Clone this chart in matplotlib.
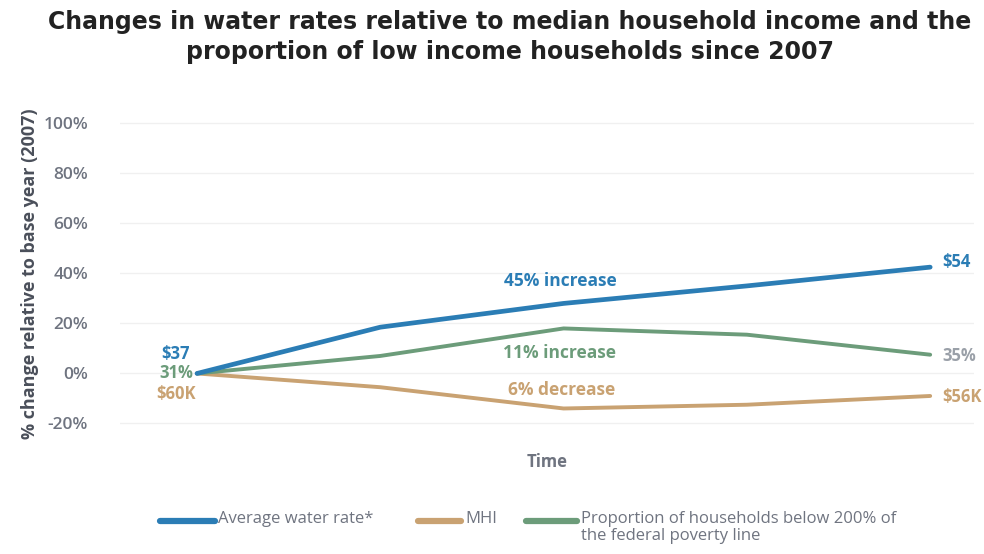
import matplotlib.pyplot as plt
from matplotlib.lines import Line2D

# Data (percent change vs 2007)
periods = [0, 1, 2, 3, 4]
water_rate = [0, 18.5, 28, 35, 42.5]
mhi = [0, -5.5, -14, -12.5, -9]
low_income = [0, 7, 18, 15.5, 7.5]
yticks = [-20, 0, 20, 40, 60, 80, 100]

blue = '#2b7db5'
orange = '#c9a272'
green = '#6c9c7a'
grey = '#6f7480'

plt.rcParams['font.family'] = ['Open Sans', 'DejaVu Sans']

fig = plt.figure(figsize=(9.84, 5.54), dpi=100)
ax = fig.add_axes([0.122, 0.213, 0.868, 0.587])

ax.plot(periods, water_rate, color=blue, lw=3.4, solid_capstyle='round', zorder=3)
ax.plot(periods, mhi, color=orange, lw=2.8, solid_capstyle='round', zorder=2)
ax.plot(periods, low_income, color=green, lw=2.8, solid_capstyle='round', zorder=2)

ax.set_xlim(-0.42, 4.24)
ax.set_ylim(-25, 105)
ax.set_yticks(yticks)
ax.set_yticklabels([f'{t}%' for t in yticks], fontsize=12.5, color=grey, fontweight='semibold')
ax.set_xticks([])
ax.tick_params(axis='y', length=0, pad=23)
ax.yaxis.grid(True, color='#f0f0f0', lw=1)
ax.set_axisbelow(True)
for s in ax.spines.values():
    s.set_visible(False)

ax.set_ylabel('% change relative to base year (2007)', fontsize=13, fontweight='bold',
              color='#4a4f5a', labelpad=3)
ax.set_xlabel('Time', fontsize=12, color=grey, fontweight='bold', labelpad=12)

# start labels
kw = dict(fontsize=12, fontweight='bold', ha='right', va='center')
ax.annotate('$37', (periods[0], water_rate[0]), xytext=(-5, 14), textcoords='offset points', color=blue, **kw)
ax.annotate('31%', (periods[0], low_income[0]), xytext=(-3, 0), textcoords='offset points', color=green, **kw)
ax.annotate('$60K', (periods[0], mhi[0]), xytext=(-1, -15), textcoords='offset points', color=orange, **kw)

# end labels
kw = dict(fontsize=12, fontweight='bold', ha='left', va='center')
ax.annotate('$54', (periods[-1], water_rate[-1]), xytext=(9, 4), textcoords='offset points', color=blue, **kw)
ax.annotate('35%', (periods[-1], low_income[-1]), xytext=(9, -1), textcoords='offset points', color='#9aa0a8', **kw)
ax.annotate('$56K', (periods[-1], mhi[-1]), xytext=(9, -1), textcoords='offset points', color=orange, **kw)

# middle labels
kw = dict(fontsize=12.5, fontweight='bold', ha='center', va='center')
ax.text(1.98, 37, '45% increase', color=blue, **kw)
ax.text(1.98, 8, '11% increase', color=green, **kw)
ax.text(1.99, -6.5, '6% decrease', color=orange, **kw)

fig.suptitle('Changes in water rates relative to median household income and the\n'
             'proportion of low income households since 2007',
             x=0.518, y=0.982, fontsize=17, fontweight='bold', color='#222222',
             family=['DejaVu Sans'], linespacing=1.3)

# legend, laid out by hand so the labels sit on the first line
legend_items = [('Average water rate*', blue, 0.163, 0.222),
                ('MHI', orange, 0.425, 0.473),
                ('Proportion of households below 200% of\nthe federal poverty line', green, 0.535, 0.590)]
ly = 1 - 521 / 554
for text, col, x0, x1 in legend_items:
    fig.add_artist(Line2D([x0, x1 - 0.004], [ly, ly], color=col, lw=4.5,
                          transform=fig.transFigure, solid_capstyle='round'))
    fig.text(x1, ly + 0.018, text, fontsize=12, color=grey, va='top', ha='left',
             linespacing=1.05)

fig.savefig('out.png', dpi=100)
